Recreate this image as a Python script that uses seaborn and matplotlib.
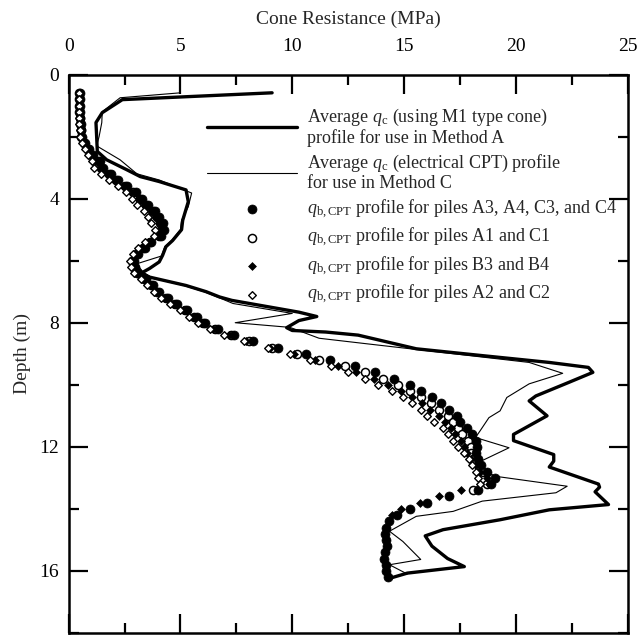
import matplotlib
matplotlib.use("Agg")
import matplotlib.pyplot as plt
import seaborn as sns
import numpy as np

# ---------------- data ----------------
# Average qc profile (M1 type cone) - Method A
depth_A = [0.59, 0.81, 1.23, 1.55, 2.0, 2.48, 2.75, 3.07, 3.29, 3.45, 3.72, 4.1, 4.7, 5.0, 5.35, 5.55,
           5.83, 6.04, 6.25, 6.4, 6.53, 6.8, 7.0, 7.17, 7.28, 7.66, 7.8, 7.93, 8.16, 8.25, 8.3, 8.4,
           8.84, 9.06, 9.28, 9.44, 9.6, 9.93, 10.36, 10.52, 11.0, 11.6, 11.8, 12.25, 12.46, 12.65,
           13.2, 13.3, 13.45, 13.86, 14.03, 14.35, 14.67, 14.87, 15.2, 15.6, 15.86, 16.07, 16.24]
qc_A = [9.1, 2.4, 1.5, 1.22, 1.25, 1.28, 1.7, 2.6, 3.2, 4.05, 5.25, 5.35, 5.1, 5.05, 4.65, 4.35,
        4.2, 4.05, 3.62, 3.25, 3.62, 5.25, 6.15, 6.75, 7.3, 10.3, 11.1, 10.3, 9.75, 10.0, 11.5, 12.95,
        15.55, 18.5, 21.5, 23.25, 23.45, 22.35, 20.9, 20.6, 21.4, 19.9, 19.9, 21.7, 21.7, 21.5,
        23.7, 23.75, 23.55, 24.15, 21.5, 19.3, 16.75, 15.95, 16.25, 16.95, 17.7, 15.15, 14.35]

# Average qc profile (electrical CPT) - Method C
depth_C = [0.59, 0.75, 1.2, 1.55, 2.0, 2.3, 2.75, 3.2, 3.4, 3.82, 4.26, 4.7, 5.0, 5.35, 5.55, 5.85,
           6.1, 6.35, 6.55, 6.8, 7.0, 7.2, 7.38, 7.7, 8.0, 8.15, 8.5, 8.68, 9.28, 9.63, 9.97, 10.41,
           10.84, 11.06, 11.49, 11.7, 12.03, 12.46, 12.88, 13.27, 13.48, 13.75, 14.08, 14.24, 14.72,
           15.05, 15.63, 15.8, 16.1]
qc_C = [5.0, 2.3, 1.5, 1.48, 1.36, 1.25, 2.3, 3.05, 4.05, 5.5, 5.35, 5.05, 5.0, 4.6, 4.3, 4.15,
        3.05, 3.3, 3.7, 5.15, 6.05, 6.75, 7.35, 10.0, 7.45, 9.9, 11.2, 13.35, 20.6, 22.1, 20.6, 19.6,
        19.3, 18.8, 18.4, 18.2, 19.7, 18.45, 18.4, 22.3, 21.8, 18.5, 17.2, 15.55, 14.35,
        14.95, 15.75, 14.35, 15.15]

# q_b,CPT depth grid (m)
depth_grid = [0.6, 0.8, 1.0, 1.2, 1.4, 1.6, 1.8, 2.0, 2.2, 2.4, 2.6, 2.8, 3.0, 3.2, 3.4, 3.6, 3.8, 4.0,
              4.2, 4.4, 4.6, 4.8, 5.0, 5.2, 5.4, 5.6, 5.8, 6.0, 6.2, 6.4, 6.6, 6.8, 7.0, 7.2, 7.4, 7.6,
              7.8, 8.0, 8.2, 8.4, 8.6, 8.8, 9.0, 9.2, 9.4, 9.6, 9.8, 10.0, 10.2, 10.4, 10.6, 10.8, 11.0,
              11.2, 11.4, 11.6, 11.8, 12.0, 12.2, 12.4, 12.6, 12.8, 13.0, 13.2, 13.4, 13.6, 13.8, 14.0,
              14.2, 14.4, 14.6, 14.8, 15.0, 15.2, 15.4, 15.6, 15.8, 16.0, 16.2]

# piles A3, A4, C3, C4 (filled circles)
qb_A3 = [0.50, 0.50, 0.50, 0.50, 0.52, 0.53, 0.55, 0.60, 0.75, 0.90, 1.10, 1.40, 1.55, 1.90, 2.20,
         2.60, 3.00, 3.30, 3.55, 3.85, 4.05, 4.20, 4.25, 4.15, 3.70, 3.40, 3.10, 2.92, 2.95, 3.12,
         3.45, 3.75, 4.05, 4.45, 4.85, 5.30, 5.75, 6.10, 6.70, 7.40,
         8.25, 9.35, 10.6, 11.7, 12.8, 13.7, 14.55, 15.25, 15.75, 16.25, 16.65, 17.0, 17.35, 17.5,
         17.8, 18.05, 18.2, 18.25, 18.2, 18.3, 18.45, 18.7, 19.05, 18.9, 18.3, 17.0, 16.05, 15.25,
         14.7, 14.35, 14.2, 14.15, 14.2, 14.25, 14.15, 14.1, 14.2, 14.2, 14.3]
# piles A1, C1 (open circles)
qb_A1 = [0.48, 0.48, 0.48, 0.48, 0.50, 0.51, 0.53, 0.57, 0.70, 0.85, 1.02, 1.30, 1.45, 1.80, 2.10,
         2.50, 2.88, 3.20, 3.45, 3.75, 3.95, 4.10, 4.15, 4.05, 3.62, 3.32, 3.02, 2.85, 2.90, 3.05,
         3.38, 3.68, 3.96, 4.35, 4.75, 5.20, 5.62, 6.00, 6.55, 7.25,
         8.05, 9.1, 10.2, 11.2, 12.35, 13.25, 14.05, 14.75, 15.25, 15.75, 16.2, 16.55, 16.95, 17.2,
         17.4, 17.6, 17.85, 18.0, 18.0, 18.1, 18.3, 18.55, 18.85, 18.7, 18.1]
# piles B3, B4 (filled diamonds)
qb_B3 = [0.47, 0.47, 0.47, 0.47, 0.49, 0.50, 0.52, 0.56, 0.68, 0.82, 0.98, 1.25, 1.40, 1.72, 2.02,
         2.42, 2.80, 3.12, 3.38, 3.66, 3.88, 4.02, 4.08, 3.98, 3.55, 3.25, 2.98, 2.82, 2.86, 3.00,
         3.32, 3.62, 3.90, 4.28, 4.68, 5.12, 5.55, 5.92, 6.45, 7.15,
         7.95, 9.0, 10.1, 11.0, 12.05, 12.85, 13.65, 14.3, 14.85, 15.35, 15.8, 16.15, 16.55, 16.85,
         17.1, 17.3, 17.55, 17.7, 17.8, 18.0, 18.2, 18.4, 18.7, 18.8, 17.55, 16.55, 15.7, 14.85, 14.45]
# piles A2, C2 (open diamonds)
qb_A2 = [0.45, 0.45, 0.45, 0.45, 0.46, 0.47, 0.49, 0.52, 0.60, 0.72, 0.85, 1.05, 1.15, 1.45, 1.80,
         2.20, 2.55, 2.85, 3.06, 3.35, 3.54, 3.70, 3.85, 3.80, 3.40, 3.12, 2.88, 2.75, 2.80, 2.92,
         3.22, 3.50, 3.80, 4.15, 4.55, 4.98, 5.40, 5.80, 6.30, 6.95,
         7.85, 8.9, 9.9, 10.8, 11.75, 12.5, 13.25, 13.85, 14.45, 14.95, 15.35, 15.75, 16.05, 16.35,
         16.75, 16.95, 17.2, 17.4, 17.7, 17.9, 18.05, 18.2, 18.3, 18.4]

labels = [
    "Average $q_\\mathrm{c}$ (using M1 type cone)\nprofile for use in Method A",
    "Average $q_\\mathrm{c}$ (electrical CPT) profile\nfor use in Method C",
    "$q_\\mathrm{b,CPT}$ profile for piles A3, A4, C3, and C4",
    "$q_\\mathrm{b,CPT}$ profile for piles A1 and C1",
    "$q_\\mathrm{b,CPT}$ profile for piles B3 and B4",
    "$q_\\mathrm{b,CPT}$ profile for piles A2 and C2",
]
x_ticks = [0, 5, 10, 15, 20, 25]
y_ticks = [0, 4, 8, 12, 16]

# ---------------- style ----------------
sns.set_style("ticks")
plt.rcParams["font.family"] = ["Liberation Serif", "DejaVu Serif"]
plt.rcParams["mathtext.fontset"] = "custom"
plt.rcParams["mathtext.rm"] = "Liberation Serif"
plt.rcParams["mathtext.it"] = "Liberation Serif:italic"
plt.rcParams["mathtext.bf"] = "Liberation Serif:bold"

fig = plt.figure(figsize=(6.39, 6.37), dpi=100)
ax = fig.add_axes([68.7 / 639, 1 - 633 / 637, (627.5 - 68.7) / 639, (633 - 74.5) / 637])

sns.lineplot(x=qc_A, y=depth_A, sort=False, estimator=None, color="black", lw=2.4,
             ax=ax, label=labels[0])
sns.lineplot(x=qc_C, y=depth_C, sort=False, estimator=None, color="black", lw=0.8,
             ax=ax, label=labels[1])

sns.scatterplot(x=qb_A1, y=depth_grid[:len(qb_A1)], marker="o", s=34, facecolor="white",
                edgecolor="black", linewidth=1.1, ax=ax, label=labels[3], zorder=3)
sns.scatterplot(x=qb_A3, y=depth_grid[:len(qb_A3)], marker="o", s=42, color="black",
                edgecolor="black", linewidth=0.5, ax=ax, label=labels[2], zorder=4)
sns.scatterplot(x=qb_B3, y=depth_grid[:len(qb_B3)], marker="D", s=16, color="black",
                edgecolor="black", linewidth=0.5, ax=ax, label=labels[4], zorder=5)
sns.scatterplot(x=qb_A2, y=depth_grid[:len(qb_A2)], marker="D", s=15, facecolor="white",
                edgecolor="black", linewidth=1.0, ax=ax, label=labels[5], zorder=6)

ax.set_xlim(0, 25)
ax.set_ylim(18, 0)
ax.set_xticks(x_ticks)
ax.set_xticks(np.array(x_ticks[:-1]) + 2.5, minor=True)
ax.set_yticks(y_ticks)
ax.set_yticks(np.array(y_ticks) + 2, minor=True)
ax.set_xticklabels([str(t) for t in x_ticks])
ax.set_yticklabels([str(t) for t in y_ticks])

ax.tick_params(axis="both", which="both", direction="in", top=True, bottom=True,
               left=True, right=True, width=1.6, colors="black")
ax.tick_params(axis="both", which="major", length=13.5)
ax.tick_params(axis="both", which="minor", length=7)
ax.tick_params(axis="x", which="both", labeltop=True, labelbottom=False, labelsize=14, pad=14)
ax.tick_params(axis="y", which="both", labelsize=14, pad=7)
for sp in ax.spines.values():
    sp.set_linewidth(1.8)
    sp.set_color("black")

ax.xaxis.set_label_position("top")
ax.set_xlabel("Cone Resistance (MPa)", fontsize=14, labelpad=10)
ax.set_ylabel("Depth (m)", fontsize=14, labelpad=6)

handles, labs = ax.get_legend_handles_labels()
order = [labs.index(l) for l in labels]
leg = ax.legend([handles[i] for i in order], [labs[i] for i in order],
                loc="upper left", bbox_to_anchor=(207 / 639, 1 - 107 / 637),
                bbox_transform=fig.transFigure, frameon=False, fontsize=13,
                handlelength=5.0, handletextpad=0.55, labelspacing=0.3,
                borderpad=0, borderaxespad=0, markerscale=1.0)
for t in leg.get_texts():
    t.set_linespacing(1.1)

fig.savefig("out.png", dpi=100)
